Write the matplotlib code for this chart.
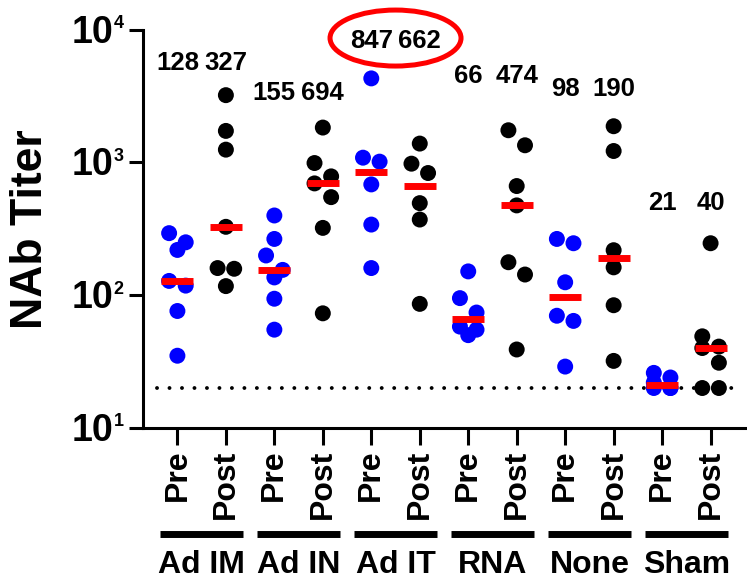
import numpy as np
import matplotlib.pyplot as plt
from matplotlib.patches import Ellipse
from matplotlib.ticker import NullLocator

plt.rcParams['font.family'] = ['Liberation Sans', 'DejaVu Sans']

groups = ['Ad IM', 'Ad IN', 'Ad IT', 'RNA', 'None', 'Sham']
conditions = ['Pre', 'Post']

# NAb titers per animal
ad_im_pre = [293, 250, 219, 128, 118, 76, 35]
ad_im_post = [3204, 1724, 1246, 327, 160, 158, 117]
ad_in_pre = [398, 265, 199, 155, 136, 94, 55]
ad_in_post = [1827, 988, 784, 694, 547, 321, 73]
ad_it_pre = [4285, 1084, 1012, 682, 340, 160]
ad_it_post = [1384, 977, 831, 493, 371, 86]
rna_pre = [151, 95, 74, 58, 55, 50]
rna_post = [1744, 1344, 663, 474, 177, 143, 39]
none_pre = [265, 246, 125, 70, 64, 29]
none_post = [1870, 1217, 218, 162, 84, 32]
sham_pre = [26, 24, 22, 20, 20, 20]
sham_post = [246, 49, 41, 40, 31, 20, 20]

series = [ad_im_pre, ad_im_post, ad_in_pre, ad_in_post, ad_it_pre, ad_it_post,
          rna_pre, rna_post, none_pre, none_post, sham_pre, sham_post]

detection_limit = 20
# height (baseline) of the median numbers above each group
label_base = [4940, 2940, 7250, 3925, 3150, 435]
highlight = 'Ad IT'

fig = plt.figure(figsize=(7.47, 5.86), dpi=100)
ax = fig.add_axes([143 / 747, 158 / 586, 602 / 747, 398.5 / 586])
ax.set_yscale('log')
ax.set_ylim(10, 1e4)
ax.set_xlim(-0.71, 11.71)


def swarm(vals, x0, diam=16, half=8.3):
    # spread overlapping points left/right, like a column scatter
    vals = np.asarray(vals, float)
    disp = ax.transData.transform(np.column_stack([np.full(len(vals), x0), vals]))
    ypix = disp[:, 1]
    unit = ax.transData.transform((1, 10))[0] - ax.transData.transform((0, 10))[0]
    order = np.argsort(-ypix)
    offs = np.zeros(len(vals))
    clusters = [[order[0]]]
    for a, b in zip(order[:-1], order[1:]):
        if ypix[a] - ypix[b] < diam:
            clusters[-1].append(b)
        else:
            clusters.append([b])
    for c in clusters:
        if len(c) < 2:
            continue
        for k, idx in enumerate(c):
            offs[idx] = -half if k % 2 == 0 else half
        if len(c) % 2 == 1:
            offs[c[-1]] = 0
    return x0 + offs / unit


for i, vals in enumerate(series):
    col = 'blue' if i % 2 == 0 else 'black'
    xs = swarm(vals, i)
    ax.scatter(xs, vals, s=132, color=col, edgecolors='none', zorder=3, clip_on=False)
    med = np.median(vals)
    ax.plot([i - 0.33, i + 0.33], [med, med], color='red', lw=5,
            solid_capstyle='butt', zorder=4)
    ax.text(i, label_base[i // 2], f'{med:.0f}', ha='center', va='baseline',
            fontsize=18.5, fontweight='bold')

ax.plot([-0.43, 11.45], [detection_limit, detection_limit], color='black', lw=2.8,
        linestyle=(0, (0.01, 3.2)), dash_capstyle='round', zorder=1)

# axes styling
for s in ['top', 'right']:
    ax.spines[s].set_visible(False)
for s in ['left', 'bottom']:
    ax.spines[s].set_linewidth(2.2)
ax.yaxis.set_minor_locator(NullLocator())
ax.set_yticks([10, 100, 1000, 10000])
ax.tick_params(axis='y', length=10, width=2.2, labelleft=False)
for v in [10, 100, 1000, 10000]:
    ax.annotate('10', xy=(0, v), xycoords=('axes fraction', 'data'),
                xytext=(-21.6, -9.4), textcoords='offset points',
                ha='right', va='baseline', fontsize=27, fontweight='bold')
    ax.annotate(str(int(np.log10(v))), xy=(0, v), xycoords=('axes fraction', 'data'),
                xytext=(-21.2, 1.1), textcoords='offset points',
                ha='left', va='baseline', fontsize=13, fontweight='bold')

ax.set_xticks(range(len(series)))
ax.set_xticklabels(conditions * len(groups), rotation=90, fontsize=23, fontweight='bold')
ax.tick_params(axis='x', length=12, width=2.2, pad=3.5)

ax.set_ylabel('NAb Titer', fontsize=32, fontweight='bold', va='baseline')
ax.yaxis.set_label_coords(-0.168, 0.5)

# group bars and names under the tick labels
xt = ax.get_xaxis_transform()
for g, name in enumerate(groups):
    ax.plot([2 * g - 0.35, 2 * g + 1.35], [-0.266, -0.266], transform=xt,
            color='black', lw=5, solid_capstyle='butt', clip_on=False)
    ax.text(2 * g + 0.5, -0.364, name, transform=xt, ha='center', va='baseline',
            fontsize=23, fontweight='bold')

# red ring around the highlighted group's medians
g = groups.index(highlight)
cx, cy = ax.transData.transform((2 * g + 0.5, label_base[g]))
cx, cy = fig.transFigure.inverted().transform((cx, cy + 10))
fig.add_artist(Ellipse((cx, cy), 131 / 747, 56 / 586, transform=fig.transFigure,
                       fill=False, ec='red', lw=3.6))

fig.savefig('out.png', dpi=100)
